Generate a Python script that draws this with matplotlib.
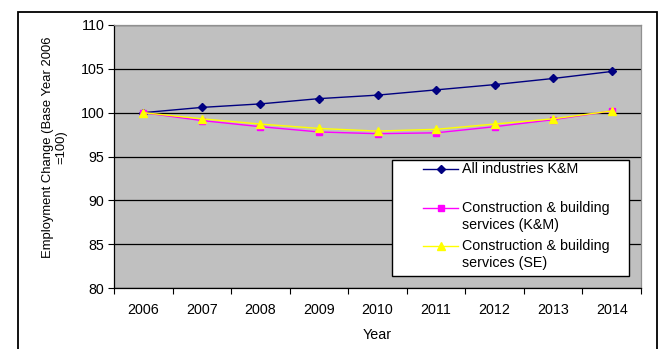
import matplotlib.pyplot as plt
from matplotlib.patches import Rectangle
from matplotlib.lines import Line2D

plt.rcParams['font.family'] = ['Liberation Sans', 'DejaVu Sans']

years = ['2006', '2007', '2008', '2009', '2010', '2011', '2012', '2013', '2014']
all_km = [100.0, 100.6, 101.0, 101.6, 102.0, 102.6, 103.2, 103.9, 104.7]
constr_km = [100.0, 99.1, 98.4, 97.8, 97.6, 97.7, 98.4, 99.2, 100.2]
constr_se = [100.0, 99.3, 98.7, 98.2, 97.9, 98.1, 98.7, 99.3, 100.2]

FS = 10.3
W, H = 661, 349
fig = plt.figure(figsize=(W / 100, H / 100), dpi=100)
ax = fig.add_axes([114 / W, 1 - 288 / H, 527 / W, 263 / H])
ax.set_facecolor('#C0C0C0')

x = list(range(len(years)))
styles = [
    (all_km, '#000080', 'D', 4.5, 'All industries K&M'),
    (constr_km, '#FF00FF', 's', 5, 'Construction & building\nservices (K&M)'),
    (constr_se, '#FFFF00', '^', 6, 'Construction & building\nservices (SE)'),
]
for vals, col, mk, ms, lab in styles:
    ax.plot(x, vals, color=col, lw=1, marker=mk, ms=ms, mfc=col, mec=col, zorder=3)

ax.set_xlim(-0.5, len(years) - 0.5)
ax.set_ylim(80, 110)
ax.set_yticks(range(80, 111, 5))
ax.set_xticks(x)
ax.set_xticklabels(years)
ax.set_xticks([i - 0.5 for i in range(len(years) + 1)], minor=True)
ax.tick_params(axis='x', which='major', length=0, pad=11, labelsize=FS)
ax.tick_params(axis='x', which='minor', length=4, width=0.8, direction='out')
ax.tick_params(axis='y', length=4, width=0.8, direction='out', pad=3, labelsize=FS)
ax.grid(axis='y', color='black', lw=0.9)
ax.set_axisbelow(True)

for s in ['left', 'bottom']:
    ax.spines[s].set_color('black')
    ax.spines[s].set_linewidth(0.9)
for s in ['top', 'right']:
    ax.spines[s].set_color('#909090')
    ax.spines[s].set_linewidth(0.9)

ax.set_xlabel('Year', fontsize=FS, labelpad=8)
fig.text(55 / W, 1 - 147 / H, 'Employment Change (Base Year 2006\n=100)',
         rotation=90, ha='center', va='center', fontsize=9.4,
         multialignment='center', linespacing=1.15)

# legend box drawn by hand so markers sit on the first text line
def px(xp, yp):
    return (xp - 114) / 527, (288 - yp) / 263

lx0, ly0 = px(392, 276)
lx1, ly1 = px(629, 160)
ax.add_patch(Rectangle((lx0, ly0), lx1 - lx0, ly1 - ly0, transform=ax.transAxes,
                       facecolor='white', edgecolor='black', lw=1, zorder=5))
rows = [169, 208, 246]
for (vals, col, mk, ms, lab), ry in zip(styles, rows):
    hx0, hy = px(423, ry)
    hx1, _ = px(458, ry)
    ax.add_line(Line2D([hx0, hx1], [hy, hy], color=col, lw=1, transform=ax.transAxes, zorder=6))
    ax.add_line(Line2D([(hx0 + hx1) / 2], [hy], color=col, marker=mk, ms=ms, mfc=col, mec=col,
                       transform=ax.transAxes, zorder=6))
    for k, line in enumerate(lab.split('\n')):
        tx, ty = px(462, ry + k * 17)
        ax.text(tx, ty, line, transform=ax.transAxes, ha='left', va='center',
                fontsize=FS, zorder=7)

# outer chart frame
fig.patches.append(Rectangle((18 / W, -0.05), (657 - 18) / W, 1.05 - 12 / H,
                             transform=fig.transFigure, fill=False, edgecolor='black',
                             lw=1.3, clip_on=False))

fig.savefig('out.png', dpi=100)
